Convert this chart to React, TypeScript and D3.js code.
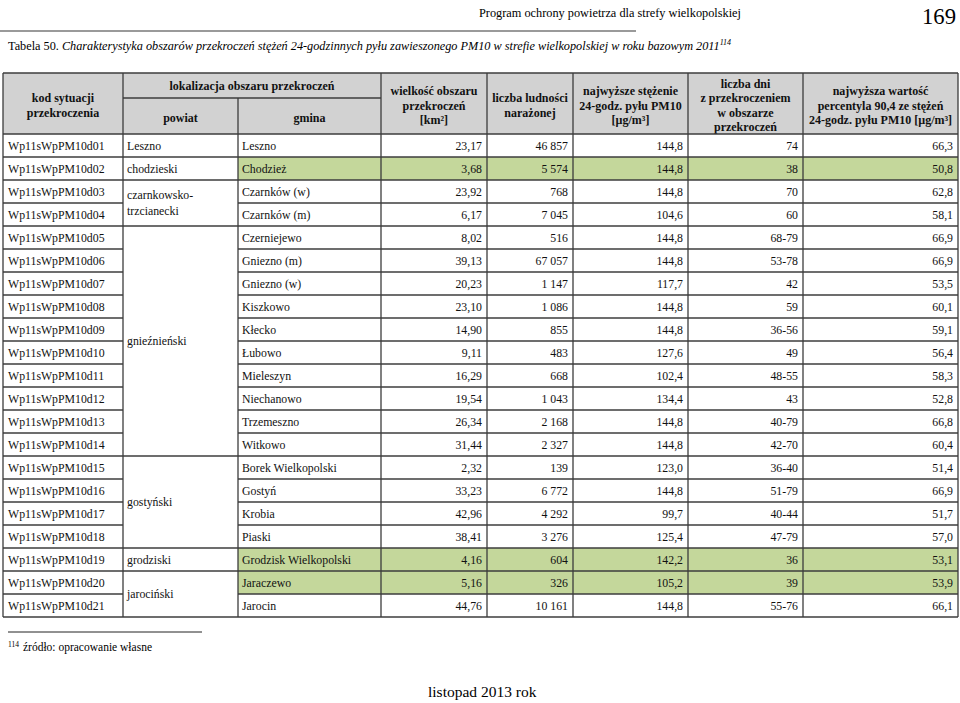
import React, { useEffect, useRef } from 'react'
import * as d3 from 'd3'

// table data
const codes = [
  'Wp11sWpPM10d01', 'Wp11sWpPM10d02', 'Wp11sWpPM10d03', 'Wp11sWpPM10d04', 'Wp11sWpPM10d05',
  'Wp11sWpPM10d06', 'Wp11sWpPM10d07', 'Wp11sWpPM10d08', 'Wp11sWpPM10d09', 'Wp11sWpPM10d10',
  'Wp11sWpPM10d11', 'Wp11sWpPM10d12', 'Wp11sWpPM10d13', 'Wp11sWpPM10d14', 'Wp11sWpPM10d15',
  'Wp11sWpPM10d16', 'Wp11sWpPM10d17', 'Wp11sWpPM10d18', 'Wp11sWpPM10d19', 'Wp11sWpPM10d20',
  'Wp11sWpPM10d21'
]
const powiaty = [
  'Leszno', 'chodzieski', 'czarnkowsko-|trzcianecki', 'czarnkowsko-|trzcianecki',
  'gnieźnieński', 'gnieźnieński', 'gnieźnieński', 'gnieźnieński', 'gnieźnieński',
  'gnieźnieński', 'gnieźnieński', 'gnieźnieński', 'gnieźnieński', 'gnieźnieński',
  'gostyński', 'gostyński', 'gostyński', 'gostyński', 'grodziski', 'jarociński', 'jarociński'
]
const gminy = [
  'Leszno', 'Chodzież', 'Czarnków (w)', 'Czarnków (m)', 'Czerniejewo', 'Gniezno (m)',
  'Gniezno (w)', 'Kiszkowo', 'Kłecko', 'Łubowo', 'Mieleszyn', 'Niechanowo', 'Trzemeszno',
  'Witkowo', 'Borek Wielkopolski', 'Gostyń', 'Krobia', 'Piaski', 'Grodzisk Wielkopolski',
  'Jaraczewo', 'Jarocin'
]
const area = [
  23.17, 3.68, 23.92, 6.17, 8.02, 39.13, 20.23, 23.10, 14.90, 9.11, 16.29, 19.54, 26.34,
  31.44, 2.32, 33.23, 42.96, 38.41, 4.16, 5.16, 44.76
]
const population = [
  46857, 5574, 768, 7045, 516, 67057, 1147, 1086, 855, 483, 668, 1043, 2168, 2327, 139,
  6772, 4292, 3276, 604, 326, 10161
]
const maxConc = [
  144.8, 144.8, 144.8, 104.6, 144.8, 144.8, 117.7, 144.8, 144.8, 127.6, 102.4, 134.4,
  144.8, 144.8, 123.0, 144.8, 99.7, 125.4, 142.2, 105.2, 144.8
]
const days = [
  '74', '38', '70', '60', '68-79', '53-78', '42', '59', '36-56', '49', '48-55', '43',
  '40-79', '42-70', '36-40', '51-79', '40-44', '47-79', '36', '39', '55-76'
]
const percentile = [
  66.3, 50.8, 62.8, 58.1, 66.9, 66.9, 53.5, 60.1, 59.1, 56.4, 58.3, 52.8, 66.8, 60.4,
  51.4, 66.9, 51.7, 57.0, 53.1, 53.9, 66.1
]
const highlighted = ['Wp11sWpPM10d02', 'Wp11sWpPM10d19', 'Wp11sWpPM10d20']

const headers = [
  ['kod sytuacji', 'przekroczenia'],
  ['powiat'],
  ['gmina'],
  ['wielkość obszaru', 'przekroczeń', '[km²]'],
  ['liczba ludności', 'narażonej'],
  ['najwyższe stężenie', '24-godz. pyłu PM10', '[µg/m³]'],
  ['liczba dni', 'z przekroczeniem', 'w obszarze', 'przekroczeń'],
  ['najwyższa wartość', 'percentyla 90,4 ze stężeń', '24-godz. pyłu PM10 [µg/m³]']
]

const FONT = "'Liberation Serif', 'Times New Roman', serif"

const App = () => {
  const ref = useRef(null)

  useEffect(() => {
    const svg = d3.select(ref.current)
    svg.selectAll('*').remove()

    const pl = d3.formatLocale({ decimal: ',', thousands: '\u00a0', grouping: [3], currency: ['', ''] })
    const f2 = pl.format('.2f')
    const f1 = pl.format('.1f')
    const fint = pl.format(',d')

    const edges = [3, 123, 238, 381, 487, 573, 688, 803, 958]
    const top = 73, mid = 98, headBottom = 134, bottom = 617
    const y = d3.scaleBand().domain(codes).range([headBottom, bottom]).padding(0)
    const rh = y.bandwidth()
    const line = '#3c3c3c'

    // page header
    svg.append('text').attr('x', 479).attr('y', 17).attr('font-size', 12.5)
      .attr('textLength', 262).attr('lengthAdjust', 'spacingAndGlyphs')
      .attr('font-family', FONT).text('Program ochrony powietrza dla strefy wielkopolskiej')
    svg.append('text').attr('x', 922).attr('y', 24).attr('font-size', 24)
      .attr('textLength', 34).attr('lengthAdjust', 'spacingAndGlyphs')
      .attr('font-family', FONT).text('169')
    svg.append('line').attr('x1', 0).attr('x2', 636).attr('y1', 31).attr('y2', 31)
      .attr('stroke', '#9a9a9a').attr('stroke-width', 2)

    // caption
    const cap = svg.append('text').attr('x', 8).attr('y', 50).attr('font-size', 12.25).attr('font-family', FONT)
    cap.append('tspan').text('Tabela 50. ')
    cap.append('tspan').attr('font-style', 'italic')
      .text('Charakterystyka obszarów przekroczeń stężeń 24-godzinnych pyłu zawieszonego PM10 w strefie wielkopolskiej w roku bazowym 2011')
    cap.append('tspan').attr('font-style', 'italic').attr('font-size', 8).attr('dy', -5).text('114')

    // header background
    svg.append('rect').attr('x', edges[0]).attr('y', top)
      .attr('width', edges[8] - edges[0]).attr('height', headBottom - top).attr('fill', '#d2d2d2')

    // highlighted rows
    svg.selectAll('rect.hl').data(highlighted).join('rect').attr('class', 'hl')
      .attr('x', edges[2]).attr('y', d => y(d))
      .attr('width', edges[8] - edges[2]).attr('height', rh).attr('fill', '#c4d79b')

    // header texts
    const hg = svg.append('g').attr('font-family', FONT).attr('font-weight', 'bold')
      .attr('font-size', 12).attr('text-anchor', 'middle').attr('fill', '#111')
    const lh = 14.5
    headers.forEach((lines, i) => {
      const cx = (edges[i] + edges[i + 1]) / 2
      const y0 = (i === 1 || i === 2) ? mid : top
      const cy = (y0 + headBottom) / 2 + 2
      lines.forEach((t, j) => {
        hg.append('text').attr('x', cx).attr('y', cy + (j - (lines.length - 1) / 2) * lh + 4).text(t)
      })
    })
    hg.append('text').attr('x', (edges[1] + edges[3]) / 2).attr('y', (top + mid) / 2 + 4)
      .text('lokalizacja obszaru przekroczeń')

    // body texts
    const bg = svg.append('g').attr('font-family', FONT).attr('font-size', 11.8).attr('fill', '#111')
    const rows = codes.map((c, i) => ({ c, i }))
    const cy = d => y(d.c) + rh / 2 + 4
    bg.selectAll('text.code').data(rows).join('text').attr('x', edges[0] + 5).attr('y', cy).text(d => d.c)
    bg.selectAll('text.gm').data(rows).join('text').attr('x', edges[2] + 4).attr('y', cy).text(d => gminy[d.i])
    const numCols = [
      d => f2(area[d.i]), d => fint(population[d.i]), d => f1(maxConc[d.i]),
      d => days[d.i], d => f1(percentile[d.i])
    ]
    numCols.forEach((fn, k) => {
      bg.selectAll(`text.n${k}`).data(rows).join('text').attr('class', `n${k}`)
        .attr('x', edges[k + 4] - 5).attr('y', cy).attr('text-anchor', 'end').text(fn)
    })

    // merged powiat cells
    const groups = []
    powiaty.forEach((p, i) => {
      const last = groups[groups.length - 1]
      if (last && last.name === p) last.end = i
      else groups.push({ name: p, start: i, end: i })
    })
    groups.forEach(g => {
      const gy0 = y(codes[g.start]), gy1 = y(codes[g.end]) + rh
      const parts = g.name.split('|')
      const c = (gy0 + gy1) / 2
      parts.forEach((t, j) => {
        bg.append('text').attr('x', edges[1] + 4)
          .attr('y', c + (j - (parts.length - 1) / 2) * 15.5 + 4).text(t)
      })
    })

    // grid lines
    const lg = svg.append('g').attr('stroke', line).attr('stroke-width', 1.3).attr('fill', 'none')
    lg.append('line').attr('x1', edges[0]).attr('x2', edges[8]).attr('y1', top).attr('y2', top)
    lg.append('line').attr('x1', edges[1]).attr('x2', edges[3]).attr('y1', mid).attr('y2', mid)
    lg.append('line').attr('x1', edges[0]).attr('x2', edges[8]).attr('y1', headBottom).attr('y2', headBottom)
    codes.forEach((c, i) => {
      const yy = y(c) + rh
      const inGroup = i < codes.length - 1 && powiaty[i] === powiaty[i + 1]
      if (inGroup) {
        lg.append('line').attr('x1', edges[0]).attr('x2', edges[1]).attr('y1', yy).attr('y2', yy)
        lg.append('line').attr('x1', edges[2]).attr('x2', edges[8]).attr('y1', yy).attr('y2', yy)
      } else {
        lg.append('line').attr('x1', edges[0]).attr('x2', edges[8]).attr('y1', yy).attr('y2', yy)
      }
    })
    edges.forEach((x, i) => {
      lg.append('line').attr('x1', x).attr('x2', x)
        .attr('y1', i === 2 ? mid : top).attr('y2', bottom)
    })

    // footnote
    svg.append('line').attr('x1', 8).attr('x2', 202).attr('y1', 632).attr('y2', 632)
      .attr('stroke', '#222').attr('stroke-width', 1)
    const fn = svg.append('text').attr('x', 8).attr('y', 651).attr('font-family', FONT).attr('font-size', 11.5)
    fn.append('tspan').attr('font-size', 7.5).attr('dy', -4).text('114')
    fn.append('tspan').attr('dy', 4).attr('dx', 4).text('źródło: opracowanie własne')

    svg.append('text').attr('x', 428).attr('y', 697).attr('font-family', FONT).attr('font-size', 15.5)
      .text('listopad 2013 rok')
  }, [])

  return (
    <svg ref={ref} width={960} height={703}
      style={{ position: 'absolute', left: 0, top: 0, background: '#fff' }} />
  )
}

export default App
